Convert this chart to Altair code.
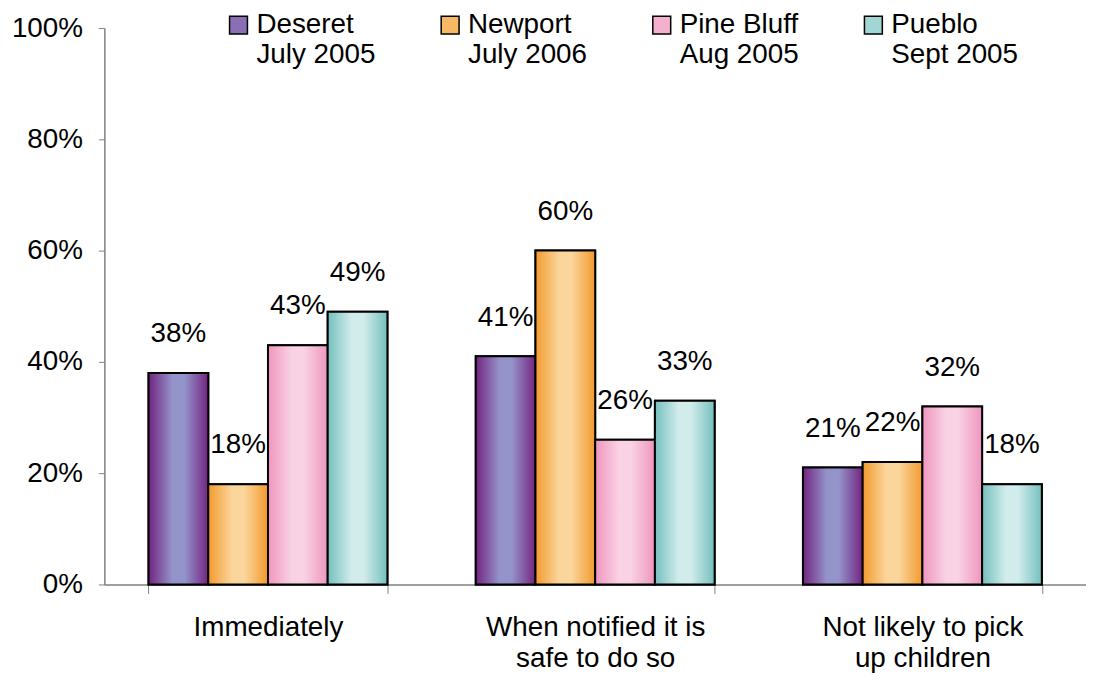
import altair as alt
import pandas as pd

categories = ["Immediately", "When notified it is|safe to do so", "Not likely to pick|up children"]
series = ["Deseret|July 2005", "Newport|July 2006", "Pine Bluff|Aug 2005", "Pueblo|Sept 2005"]
deseret = [38, 41, 21]
newport = [18, 60, 22]
pine_bluff = [43, 26, 32]
pueblo = [49, 33, 18]

values = [deseret, newport, pine_bluff, pueblo]
mid_colors = ["#8B6FB5", "#F7B865", "#F4B0CE", "#A2D6D4"]
edge_colors = ["#732481", "#F39A2E", "#EF96BE", "#74C0BE"]
light_colors = ["#9494CA", "#FAD69C", "#F9D2E4", "#D2ECEC"]

rows = []
for s, vals in zip(series, values):
    for c, v in zip(categories, vals):
        rows.append({"category": c, "series": s, "value": v / 100})
df = pd.DataFrame(rows)

FONT = "Liberation Sans"
FS = 28

base = alt.Chart(df).encode(
    x=alt.X(
        "category:N",
        sort=categories,
        scale=alt.Scale(paddingInner=0.27, paddingOuter=0.135),
        axis=alt.Axis(
            title=None,
            labelAngle=0,
            labelExpr="split(datum.label, '|')",
            labelFontSize=FS,
            labelFont=FONT,
            labelColor="black",
            labelPadding=20,
            labelLineHeight=32,
            labelBaseline="top",
            labelLimit=500,
            tickBand="extent",
            tickSize=9,
            tickColor="#808080",
            domainColor="#808080",
            domainWidth=1.5,
        ),
    ),
    xOffset=alt.XOffset("series:N", sort=series, scale=alt.Scale(domain=series, paddingInner=0, paddingOuter=0)),
    y=alt.Y(
        "value:Q",
        scale=alt.Scale(domain=[0, 1]),
        axis=alt.Axis(
            title=None,
            format=".0%",
            values=[0, 0.2, 0.4, 0.6, 0.8, 1.0],
            grid=False,
            labelFontSize=FS,
            labelFont=FONT,
            labelColor="black",
            labelPadding=16,
            tickSize=6,
            tickColor="#808080",
            domainColor="#808080",
            domainWidth=1.5,
        ),
    ),
)

legend_layer = base.mark_bar(stroke="black", strokeWidth=2).encode(
    color=alt.Color(
        "series:N",
        sort=series,
        scale=alt.Scale(domain=series, range=mid_colors),
        legend=alt.Legend(
            title=None,
            orient="none",
            legendX=121,
            legendY=-17,
            direction="horizontal",
            columns=4,
            labelExpr="split(datum.label, '|')",
            labelFontSize=FS,
            labelFont=FONT,
            labelColor="black",
            labelBaseline="middle",
            labelOffset=4,
            symbolType="square",
            symbolSize=324,
            symbolStrokeColor="black",
            symbolStrokeWidth=1.5,
            symbolOpacity=1,
            columnPadding=61,
        ),
    )
)

layers = [legend_layer]
for s, e, l in zip(series, edge_colors, light_colors):
    grad = alt.Gradient(
        gradient="linear",
        x1=0, x2=1, y1=0, y2=0,
        stops=[
            alt.GradientStop(color=e, offset=0),
            alt.GradientStop(color=l, offset=0.4),
            alt.GradientStop(color=l, offset=0.6),
            alt.GradientStop(color=e, offset=1),
        ],
    )
    layers.append(
        base.transform_filter(alt.datum.series == s).mark_bar(color=grad, stroke="black", strokeWidth=2)
    )

text = base.mark_text(baseline="bottom", dy=-25, fontSize=FS, font=FONT, color="black").encode(
    text=alt.Text("value:Q", format=".0%")
)
layers.append(text)

chart = (
    alt.layer(*layers)
    .properties(
        width=988,
        height=560,
        autosize=alt.AutoSizeParams(type="none"),
        padding={"left": 97, "top": 18, "right": 0, "bottom": 95},
    )
    .configure_view(stroke=None)
)

chart.save("out.html", embed_options={"renderer": "svg", "actions": False})
